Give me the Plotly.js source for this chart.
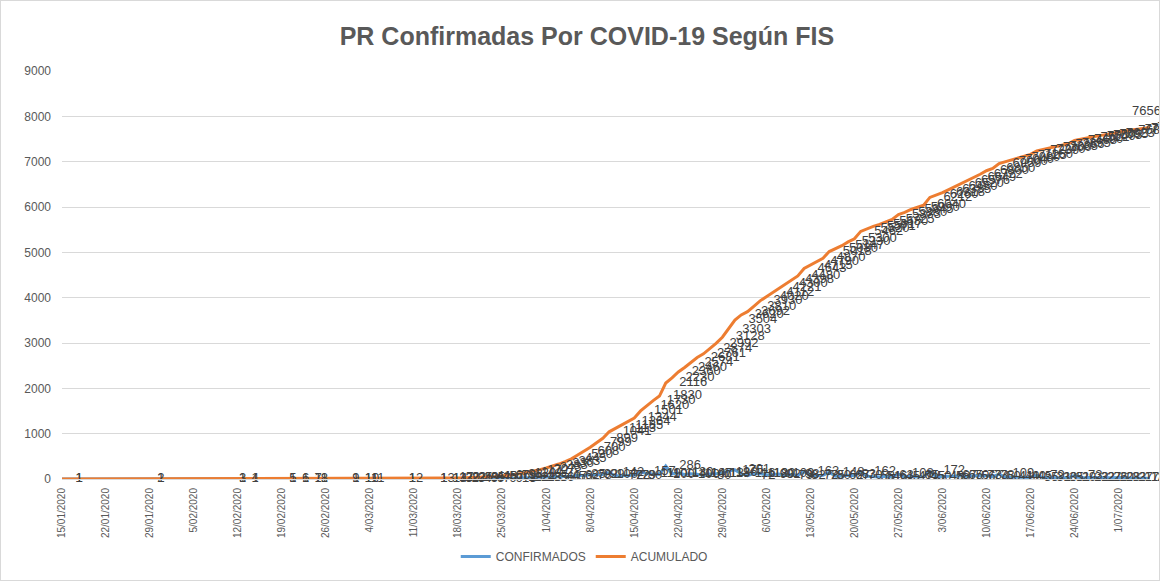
<!DOCTYPE html>
<html>
<head>
<meta charset="utf-8">
<script src="https://cdn.plot.ly/plotly-3.0.1.min.js"></script>
<style>
  html, body { margin: 0; padding: 0; background: #fff; }
  #wrap { position: relative; width: 1160px; height: 581px; }
  #chart { width: 1160px; height: 581px; }
  #frame { position: absolute; left: 0; top: 0; width: 1158px; height: 579px; border: 1px solid #d9d9d9; pointer-events: none; }
</style>
</head>
<body>
<div id="wrap"><div id="chart"></div><div id="frame"></div></div>
<script>
// Early, sparse reporting dates (only dates with cases)
const earlyDates = ['2020-01-15','2020-01-28','2020-02-10','2020-02-12','2020-02-18','2020-02-20','2020-02-22','2020-02-23','2020-02-28','2020-03-01','2020-03-02','2020-03-08','2020-03-13','2020-03-15','2020-03-16','2020-03-17'];
const earlyConfirmados = [1,1,1,1,1,1,1,1,1,1,1,1,1,1,3,3];
const earlyAcumulado   = [1,2,3,4,5,6,7,8,9,10,11,12,13,14,17,20];

// Daily values from 18/03/2020 to 6/07/2020
const dailyStart = '2020-03-18';
const dailyConfirmados = [
  2,3,4,6,6,7,9,9,13,19,
  22,24,28,35,36,40,47,53,62,85,
  78,92,99,100,142,72,72,79,80,157,
  119,110,100,286,114,130,100,114,107,80,
  113,118,136,175,201,116,72,118,120,90,
  92,109,79,98,82,163,72,75,80,148,
  62,67,83,70,162,58,51,46,63,45,
  108,47,65,45,50,172,48,58,67,65,
  70,56,73,73,78,50,109,41,40,40,
  45,35,79,31,30,35,31,29,73,22,
  32,27,26,20,28,33,27,17,18,22,
  12
];
const dailyAcumulado = [
  22,25,29,35,41,48,57,66,79,98,
  120,144,172,207,243,283,330,383,445,530,
  608,700,799,899,1041,1113,1185,1264,1344,1501,
  1620,1730,1830,2116,2230,2360,2460,2574,2681,2761,
  2874,2992,3128,3303,3504,3620,3692,3810,3930,4020,
  4112,4221,4300,4398,4480,4643,4715,4790,4870,5018,
  5080,5147,5230,5300,5462,5520,5571,5617,5680,5725,
  5833,5880,5945,5990,6040,6212,6260,6318,6385,6450,
  6520,6576,6649,6722,6800,6850,6959,7000,7040,7080,
  7125,7160,7239,7270,7300,7335,7366,7395,7468,7490,
  7522,7549,7575,7595,7623,7656,7683,7700,7718,7740,
  7752
];

const titleText = 'PR Confirmadas Por COVID-19 Según FIS';
const seriesNames = ['CONFIRMADOS', 'ACUMULADO'];
const seriesColors = ['#5B9BD5', '#ED7D31'];
const yTicks = [0,1000,2000,3000,4000,5000,6000,7000,8000,9000];

const startMs = Date.parse(dailyStart + 'T00:00:00Z');
const dailyDates = dailyConfirmados.map((_, i) =>
  new Date(startMs + i * 86400000).toISOString().slice(0, 10));

const dates = earlyDates.concat(dailyDates);
const confirmados = earlyConfirmados.concat(dailyConfirmados);
const acumulado = earlyAcumulado.concat(dailyAcumulado);

const FONT = 'Liberation Sans, Arial, sans-serif';
const labelFont = { family: FONT, size: 13, color: '#404040' };
const accPos = dates.map(d => d === '2020-07-01' ? 'top right' : 'middle right');

function lineTrace(y, i) {
  return {
    x: dates, y: y, name: seriesNames[i], type: 'scatter', mode: 'lines',
    line: { color: seriesColors[i], width: 3 }, hoverinfo: 'x+y'
  };
}
function labelTrace(y, i, pos) {
  return {
    x: dates, y: y, name: seriesNames[i] + ' labels', type: 'scatter',
    mode: 'markers+text', showlegend: false,
    marker: { size: 20, opacity: 0, color: seriesColors[i] },
    text: y.map(String), textposition: pos, textfont: labelFont,
    cliponaxis: false, hoverinfo: 'skip'
  };
}

const traces = [
  lineTrace(confirmados, 0),
  lineTrace(acumulado, 1),
  labelTrace(confirmados, 0, 'middle right'),
  labelTrace(acumulado, 1, accPos)
];

const layout = {
  width: 1160, height: 581,
  margin: { l: 62, r: 10, t: 71, b: 102 },
  paper_bgcolor: '#ffffff', plot_bgcolor: '#ffffff',
  title: {
    text: '<b>' + titleText + '</b>',
    font: { family: FONT, size: 25, color: '#595959' },
    x: 0.506, xref: 'container', xanchor: 'center',
    y: 0.938, yref: 'container', yanchor: 'middle'
  },
  showlegend: true,
  legend: {
    orientation: 'h', x: 0.48, xanchor: 'center', y: -0.19, yanchor: 'middle',
    font: { family: FONT, size: 12, color: '#595959' },
    itemclick: false
  },
  xaxis: {
    type: 'date',
    range: ['2020-01-15', '2020-07-06'],
    tick0: '2020-01-15', dtick: 7 * 86400000,
    tickformat: '%-d/%m/%Y', tickangle: -90,
    tickfont: { family: FONT, size: 10, color: '#595959' },
    showgrid: false, zeroline: false,
    showline: true, linecolor: '#d9d9d9', linewidth: 1,
    ticks: '', ticklabelstandoff: 4
  },
  yaxis: {
    range: [0, 9000], tickvals: yTicks, ticktext: yTicks.map(String),
    tickfont: { family: FONT, size: 12, color: '#595959' },
    showgrid: true, gridcolor: '#d9d9d9', gridwidth: 1,
    zeroline: false, showline: false, ticks: '', ticklabelstandoff: 10
  }
};

Plotly.newPlot('chart', traces, layout, { displayModeBar: false, staticPlot: true });
</script>
</body>
</html>
